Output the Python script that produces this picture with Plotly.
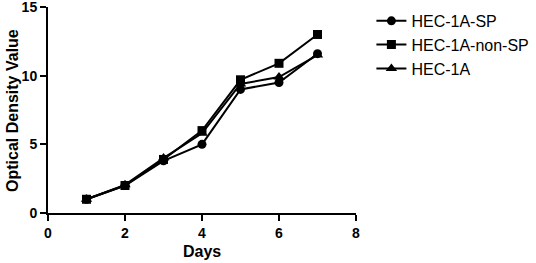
import plotly.graph_objects as go

days = [1, 2, 3, 4, 5, 6, 7]
sp = [1.0, 2.0, 3.8, 5.0, 9.0, 9.5, 11.6]
non_sp = [1.0, 2.0, 3.9, 6.0, 9.7, 10.9, 13.0]
parent = [1.0, 2.05, 4.0, 5.8, 9.4, 9.9, 11.5]
x_ticks = [0, 2, 4, 6, 8]
y_ticks = [0, 5, 10, 15]

series = [
    ("HEC-1A-SP", sp, "circle", 9),
    ("HEC-1A-non-SP", non_sp, "square", 9),
    ("HEC-1A", parent, "triangle-up", 10),
]

fig = go.Figure()
for name, vals, sym, sz in series:
    fig.add_trace(go.Scatter(
        x=days, y=vals, name=name, mode="lines+markers",
        line=dict(color="black", width=2),
        marker=dict(symbol=sym, size=sz, color="black"),
    ))

font = "Arial, Liberation Sans, sans-serif"
fig.update_layout(
    width=536, height=263,
    margin=dict(l=48, r=180, t=7, b=50, autoexpand=False),
    paper_bgcolor="white", plot_bgcolor="white",
    font=dict(family=font, color="black"),
    showlegend=True,
    legend=dict(x=1.05, y=1.015, xanchor="left", yanchor="top",
                font=dict(size=16, family=font), tracegroupgap=0,
                itemwidth=30),
    xaxis=dict(range=[0, 8], tickvals=x_ticks,
               ticktext=[f"<b>{t}</b>" for t in x_ticks],
               showline=True, linecolor="black", linewidth=2,
               ticks="outside", ticklen=6, tickwidth=2, tickcolor="black",
               showgrid=False, zeroline=False, automargin=False,
               ticklabeloverflow="allow",
               tickfont=dict(size=14, family=font)),
    yaxis=dict(range=[0, 15], tickvals=y_ticks,
               ticktext=[f"<b>{t}</b>" for t in y_ticks],
               showline=True, linecolor="black", linewidth=2,
               ticks="outside", ticklen=6, tickwidth=2, tickcolor="black",
               showgrid=False, zeroline=False, automargin=False,
               ticklabeloverflow="allow",
               tickfont=dict(size=14, family=font)),
    annotations=[
        dict(text="<b>Days</b>", xref="paper", yref="paper", x=0.5, y=-0.189,
             xanchor="center", yanchor="middle", showarrow=False,
             font=dict(size=16, family=font)),
        dict(text="<b>Optical Density Value</b>", xref="paper", yref="paper",
             x=-0.117, y=0.5, xanchor="center", yanchor="middle", textangle=-90,
             showarrow=False, font=dict(size=16, family=font)),
    ],
)
fig.write_html("out.html", config={"displayModeBar": False},
               post_script="document.body.style.margin='0';")
